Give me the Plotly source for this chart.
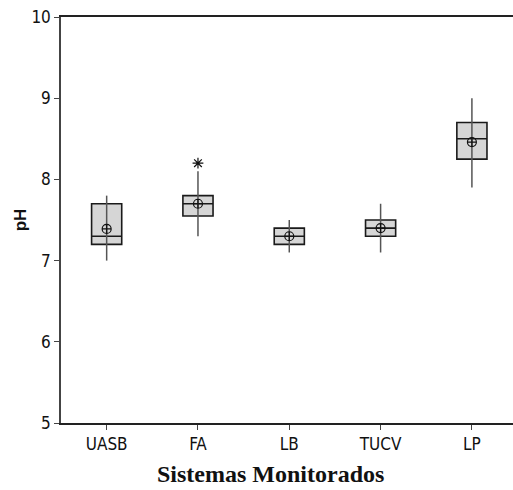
import plotly.graph_objects as go

# pH por sistema monitorado
sistemas = ["UASB", "FA", "LB", "TUCV", "LP"]
minimo = [7.0, 7.3, 7.1, 7.1, 7.9]
q1 = [7.2, 7.55, 7.2, 7.3, 8.25]
mediana = [7.3, 7.7, 7.3, 7.4, 8.5]
q3 = [7.7, 7.8, 7.4, 7.5, 8.7]
maximo = [7.8, 8.1, 7.5, 7.7, 9.0]
media = [7.39, 7.7, 7.3, 7.4, 8.46]
outlier_sistema = ["FA"]
outlier_valor = [8.2]

y_ticks = [5, 6, 7, 8, 9, 10]

fig = go.Figure()

# whiskers (drawn beneath the boxes)
wx, wy = [], []
for s, lo, hi in zip(sistemas, minimo, maximo):
    wx += [s, s, None]
    wy += [lo, hi, None]
fig.add_trace(go.Scatter(x=wx, y=wy, mode="lines",
                         line=dict(color="#555555", width=1.5),
                         hoverinfo="skip", showlegend=False))

# boxes
fig.add_trace(go.Box(x=sistemas, q1=q1, median=mediana, q3=q3,
                     lowerfence=q1, upperfence=q3,
                     width=0.33, fillcolor="#d6d6d6",
                     line=dict(color="#1a1a1a", width=1.6),
                     showlegend=False))

# means
fig.add_trace(go.Scatter(x=sistemas, y=media, mode="markers",
                         marker=dict(symbol="circle-cross-open", size=9,
                                     color="#111111", line=dict(width=1.2)),
                         showlegend=False))

# outliers
fig.add_trace(go.Scatter(x=outlier_sistema, y=outlier_valor, mode="markers",
                         marker=dict(symbol="asterisk-open", size=9,
                                     color="#111111", line=dict(width=1.2)),
                         showlegend=False))

tick_font = dict(family="DejaVu Sans Condensed, sans-serif",
                 size=17, color="#111111")

fig.update_layout(
    width=513, height=490,
    margin=dict(l=61, r=0, t=17, b=67),
    paper_bgcolor="white", plot_bgcolor="white",
    xaxis=dict(type="category", categoryorder="array", categoryarray=sistemas,
               range=[-0.5, 4.45], showgrid=False, zeroline=False,
               showline=True, linecolor="#222222", linewidth=1.5, mirror=True,
               ticks="outside", ticklen=5, tickcolor="#444444", tickwidth=1,
               tickfont=tick_font),
    yaxis=dict(range=[5, 10], tickvals=y_ticks, showgrid=False, zeroline=False,
               showline=True, linecolor="#444444", linewidth=1.5,
               ticks="outside", ticklen=5, tickcolor="#444444", tickwidth=1,
               tickfont=tick_font),
    annotations=[
        dict(text="<b>pH</b>", xref="paper", yref="paper", x=-0.09, y=0.5,
             xanchor="center", yanchor="middle", textangle=-90, showarrow=False,
             font=dict(family="Liberation Sans, Arial, sans-serif", size=17,
                       color="#111111")),
        dict(text="<b>Sistemas Monitorados</b>", xref="paper", yref="paper",
             x=(270 - 61) / 452, y=-0.126, xanchor="center", yanchor="middle",
             showarrow=False,
             font=dict(family="Liberation Serif, Times New Roman, serif",
                       size=24, color="#111111")),
    ],
)

fig.write_html("out.html")
